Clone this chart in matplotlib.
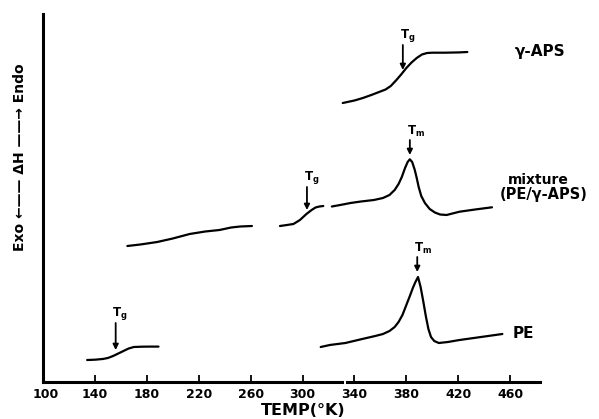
import matplotlib.pyplot as plt

# DSC traces, temperature in K, signal in arbitrary units (endo up)
pe_low_T = [134, 140, 146, 150, 154, 158, 162, 166, 170, 176, 182, 189]
pe_low_y = [22, 22.3, 23, 24, 26, 28.5, 31, 33.5, 35, 35.3, 35.4, 35.4]

pe_high_T = [314, 321, 333, 346, 356, 362, 367, 371, 374, 377, 380, 383, 385, 387, 389,
             391, 393, 395, 397, 399, 401.5, 405, 412, 421, 432, 443, 454]
pe_high_y = [35, 37, 39, 43, 46, 48, 51, 55, 60, 67, 77, 87, 94, 100, 105,
             95, 81, 66, 53, 45, 41, 39, 40, 42, 44, 46, 48]

mix_low_T = [165, 175, 188, 200, 213, 225, 236, 245, 252, 261]
mix_low_y = [136, 137.5, 140, 143.5, 148, 150.5, 152, 154.5, 155.5, 156]

mix_mid_T = [282.6, 288, 293, 298, 303, 307, 310, 313, 316]
mix_mid_y = [156, 157, 158, 162, 168, 172, 174.5, 175.5, 176]

mix_high_T = [322.6, 329, 337, 345, 355, 362, 367, 371, 374, 376.5, 379, 381, 382.7,
              384.5, 386.5, 388, 389.5, 391.5, 394.3, 398, 402, 406, 411, 421, 433, 446]
mix_high_y = [175.5, 177, 179, 180.5, 182, 184, 187, 192, 198, 205, 214, 220, 222.7,
              220, 212, 204, 195, 186, 179, 173, 169.5, 167.5, 167, 170.3, 172.5, 174.7]

aps_T = [331, 340, 346.5, 353, 360, 364, 368, 372, 376, 380, 384, 388, 392, 396,
         400, 410, 421, 427]
aps_y = [279, 281.5, 284, 287, 290.5, 292.5, 296, 301.5, 307.5, 314, 319.5, 324,
         327.5, 329, 329.3, 329.3, 329.6, 330]

# transition markers: (label, temperature, arrow top, arrow tip)
marks = [
    ("$\\mathregular{T_g}$", 156, 59, 32),
    ("$\\mathregular{T_m}$", 388.4, 125, 110),
    ("$\\mathregular{T_g}$", 303.4, 195, 172),
    ("$\\mathregular{T_m}$", 382.7, 242, 227),
    ("$\\mathregular{T_g}$", 377.3, 337, 312),
]

xticks = [140, 180, 220, 260, 300, 340, 380, 420, 460]
xticklabels = ["140", "180", "220", "260", "300", "340", "380", "420", "460"]

fig = plt.figure(figsize=(5.99, 4.19), dpi=100)
ax = fig.add_axes([0.0718, 0.0883, 0.8297, 0.8783])
ax.set_xlim(100, 483)
ax.set_ylim(0, 368)

lw = 1.6
for T, y in [(pe_low_T, pe_low_y), (pe_high_T, pe_high_y), (mix_low_T, mix_low_y),
             (mix_mid_T, mix_mid_y), (mix_high_T, mix_high_y), (aps_T, aps_y)]:
    ax.plot(T, y, color="black", lw=lw, clip_on=False, solid_capstyle="round",
            solid_joinstyle="round")

for lab, xt, y0, y1 in marks:
    ax.annotate("", xy=(xt, y1), xytext=(xt, y0),
                arrowprops=dict(arrowstyle="-|>", color="black", lw=1.3,
                                mutation_scale=8, shrinkA=0, shrinkB=0))
    ax.text(xt - 2.5, y0 + 1, lab, ha="left", va="bottom", fontsize=8.5,
            fontweight="bold")

# curve labels
ax.text(463.6, 330, "γ-APS", ha="left", va="center", fontsize=11, fontweight="bold",
        clip_on=False)
ax.text(458, 202, "mixture", ha="left", va="center", fontsize=10, fontweight="bold",
        clip_on=False)
ax.text(452, 187, "(PE/γ-APS)", ha="left", va="center", fontsize=10.5,
        fontweight="bold", clip_on=False)
ax.text(462, 49, "PE", ha="left", va="center", fontsize=11, fontweight="bold",
        clip_on=False)

# axes
for s in ["top", "right", "bottom"]:
    ax.spines[s].set_visible(False)
ax.spines["left"].set_linewidth(2.2)
ax.axhline(0, 0, (330.3 - 100) / 383, color="black", lw=2.2, clip_on=False)
ax.axhline(0, (334.2 - 100) / 383, 1, color="black", lw=2.2, clip_on=False)

ax.set_xticks(xticks)
ax.set_xticklabels(xticklabels, fontsize=9, fontweight="bold")
ax.tick_params(axis="x", direction="in", length=5, width=1.3, pad=4)
ax.set_yticks([])
ax.text(0.005, -0.017, "100", transform=ax.transAxes, ha="center", va="top",
        fontsize=9, fontweight="bold")

ax.set_xlabel("TEMP(°K)", fontsize=11.5, fontweight="bold")
ax.xaxis.set_label_coords(0.523, -0.058)

fig.text(20 / 599, 1 - 157 / 419, "Exo ←—— ΔH ——→ Endo", rotation=90,
         ha="center", va="center", fontsize=10, fontweight="bold")

fig.savefig("out.png", dpi=100)
